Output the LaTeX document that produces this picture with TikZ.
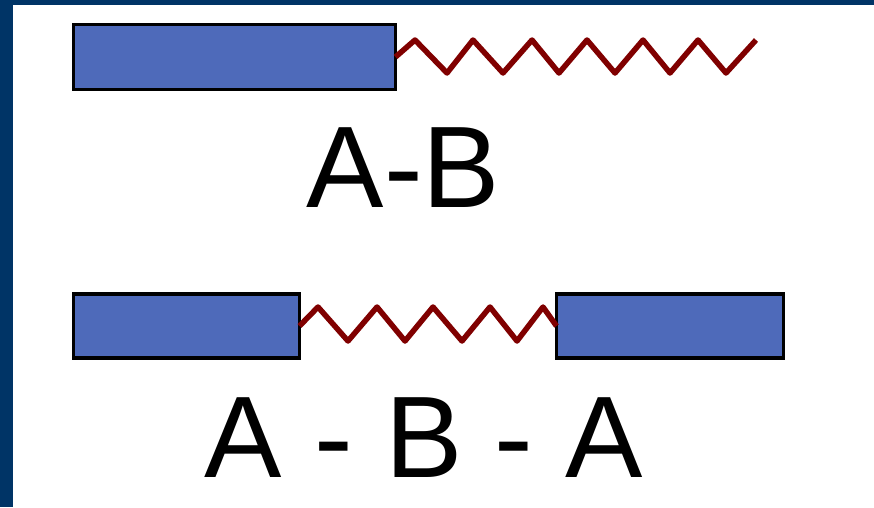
\documentclass[tikz,border=0pt]{standalone}
\usepackage{fontspec}
\setmainfont{Liberation Sans}
\definecolor{frame}{RGB}{0,52,102}
\definecolor{blockfill}{RGB}{78,106,186}
\definecolor{chain}{RGB}{128,0,0}
\begin{document}
\begin{tikzpicture}[x=1pt,y=-1pt,
  block/.style={draw=black,fill=blockfill,line width=3.8pt,inner sep=0pt,outer sep=0pt,rectangle},
  spring/.style={draw=chain,line width=5.5pt,line join=round},
  label/.style={inner sep=0pt,anchor=base,font=\fontsize{116}{120}\selectfont}]
  % page and frame
  \useasboundingbox (0,0) rectangle (874,507);
  \fill[white] (0,0) rectangle (874,507);
  \fill[frame] (0,0) rectangle (13,507);
  \fill[frame] (0,0) rectangle (874,5);

  % diblock A-B
  \node[block,minimum width=322pt,minimum height=65pt] (ab1) at (234.5,57) {};
  \coordinate (abend) at (756,40);
  \draw[spring] (ab1.east) -- (415,40) -- (447,73) -- (473,40) -- (503,73)
    -- (532,40) -- (559,73) -- (587,40) -- (615,73) -- (643,40) -- (670,73)
    -- (698,40) -- (726,73) -- (abend);
  \node[label] (abtext) at (403.5,207) {A-B};

  % triblock A-B-A
  \node[block,minimum width=226pt,minimum height=64pt] (aba1) at (186.5,326) {};
  \node[block,minimum width=227pt,minimum height=64pt] (aba2) at (670,326) {};
  \draw[spring] (aba1.east) -- (318,307) -- (348,341) -- (377,307) -- (405,341)
    -- (433,307) -- (462,341) -- (490,307) -- (517,341) -- (543,307) -- (aba2.west);
  \node[label] (abatext) at (424,477) {A - B - A};
\end{tikzpicture}
\end{document}
